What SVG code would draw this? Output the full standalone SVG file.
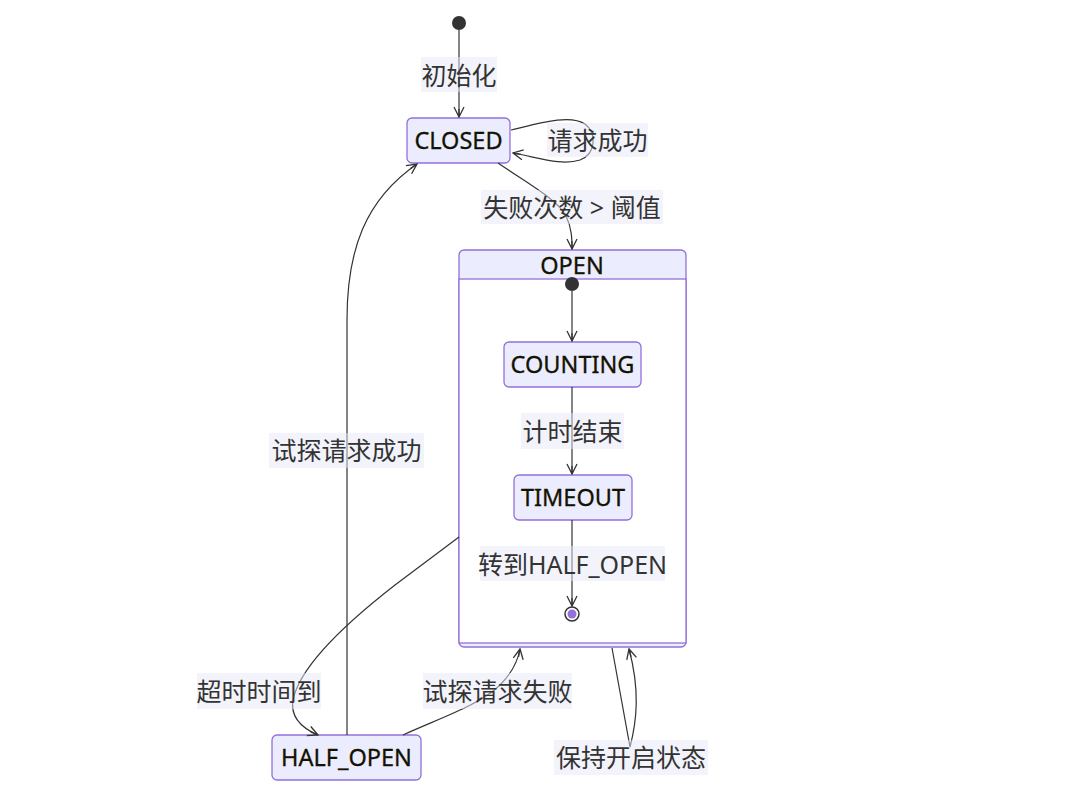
<svg xmlns="http://www.w3.org/2000/svg" width="1080" height="792" viewBox="0 0 1080 792">
<defs>
<style>
.node rect{fill:#ECECFF;stroke:#9370DB;stroke-width:1.3}
.ntext{font-family:"Noto Sans","Noto Sans CJK SC",sans-serif;font-size:23.5px;fill:#131300;text-anchor:middle;dominant-baseline:central;stroke:#131300;stroke-width:0.3}
.edge{fill:none;stroke:#333;stroke-width:1.2}
.lbg{fill:#E8E8F8;opacity:0.5}
.ltext{font-family:"Noto Sans","Noto Sans CJK SC",sans-serif;font-size:25px;fill:#333;text-anchor:middle;dominant-baseline:central}
</style>
<marker id="arr" viewBox="0 0 12 12" refX="11" refY="6" markerWidth="12" markerHeight="12" markerUnits="userSpaceOnUse" orient="auto">
<path d="M1,1 L11,6 L1,11 M11,6 L3,6" fill="none" stroke="#333" stroke-width="1.3"/>
</marker>
</defs>
<rect width="1080" height="792" fill="#fff"/>

<g id="OPEN" class="node">
<rect x="459" y="250" width="227" height="397" rx="5"/>
<rect x="459" y="279" width="227" height="364" rx="0" style="fill:#fff"/>
<text class="ntext" x="572" y="265">OPEN</text>
</g>

<g id="start">
<circle cx="459" cy="23" r="7" fill="#333"/>
</g>
<g id="open_start">
<circle cx="572" cy="284" r="7" fill="#333"/>
</g>
<g id="open_end">
<circle cx="572" cy="614" r="7" fill="#fff" stroke="#333" stroke-width="1.5"/>
<circle cx="572" cy="614" r="4.5" fill="#9370DB"/>
</g>

<g id="CLOSED" class="node">
<rect x="407" y="118" width="103" height="45" rx="5"/>
<text class="ntext" x="458.5" y="140">CLOSED</text>
</g>
<g id="COUNTING" class="node">
<rect x="504" y="342" width="137" height="45" rx="5"/>
<text class="ntext" x="572.5" y="364">COUNTING</text>
</g>
<g id="TIMEOUT" class="node">
<rect x="514" y="475" width="118" height="45" rx="5"/>
<text class="ntext" x="573" y="497">TIMEOUT</text>
</g>
<g id="HALF_OPEN" class="node">
<rect x="272" y="735" width="149" height="45" rx="5"/>
<text class="ntext" x="346.5" y="757">HALF_OPEN</text>
</g>

<g id="connectors">
<path class="edge" marker-end="url(#arr)" d="M459,30 L459,117"/>
<path class="edge" marker-end="url(#arr)" d="M511,130 C540,123 570,114 585,124 C597,133 596,154 580,160 C562,166 540,158 513,153"/>
<path class="edge" marker-end="url(#arr)" d="M498,163 C530,185 558,200 566,216 C572,228 572,240 572,249"/>
<path class="edge" marker-end="url(#arr)" d="M572,291 L572,341"/>
<path class="edge" marker-end="url(#arr)" d="M572,387 L572,474"/>
<path class="edge" marker-end="url(#arr)" d="M572,520 L572,606"/>
<path class="edge" marker-end="url(#arr)" d="M459,537 L395,585 C350,620 300,665 293,700 C290,718 304,729 318,735"/>
<path class="edge" marker-end="url(#arr)" d="M347,735 L347,320 C347,250 365,200 417,164"/>
<path class="edge" marker-end="url(#arr)" d="M403,735 C440,718 480,705 500,685 C512,673 518,660 520,649"/>
<path class="edge" marker-end="url(#arr)" d="M612,648 L630,747 C637,720 640,690 629,649"/>
</g>

<g id="labels">
<rect class="lbg" x="421" y="57" width="76" height="35"/>
<text class="ltext" x="459" y="75">初始化</text>
<rect class="lbg" x="547" y="123" width="101" height="34"/>
<text class="ltext" x="597.5" y="140">请求成功</text>
<rect class="lbg" x="481" y="190" width="182" height="34"/>
<text class="ltext" x="572" y="207">失败次数 &gt; 阈值</text>
<rect class="lbg" x="521" y="413" width="103" height="36"/>
<text class="ltext" x="572.5" y="431">计时结束</text>
<rect class="lbg" x="480" y="546" width="185" height="35"/>
<text class="ltext" x="572.5" y="564">转到HALF_OPEN</text>
<rect class="lbg" x="197" y="673" width="124" height="36"/>
<text class="ltext" x="259" y="691">超时时间到</text>
<rect class="lbg" x="269" y="433" width="155" height="35"/>
<text class="ltext" x="346.5" y="450">试探请求成功</text>
<rect class="lbg" x="423" y="673" width="149" height="36"/>
<text class="ltext" x="497.5" y="691">试探请求失败</text>
<rect class="lbg" x="554" y="740" width="154" height="35"/>
<text class="ltext" x="631" y="757">保持开启状态</text>
</g>
</svg>
